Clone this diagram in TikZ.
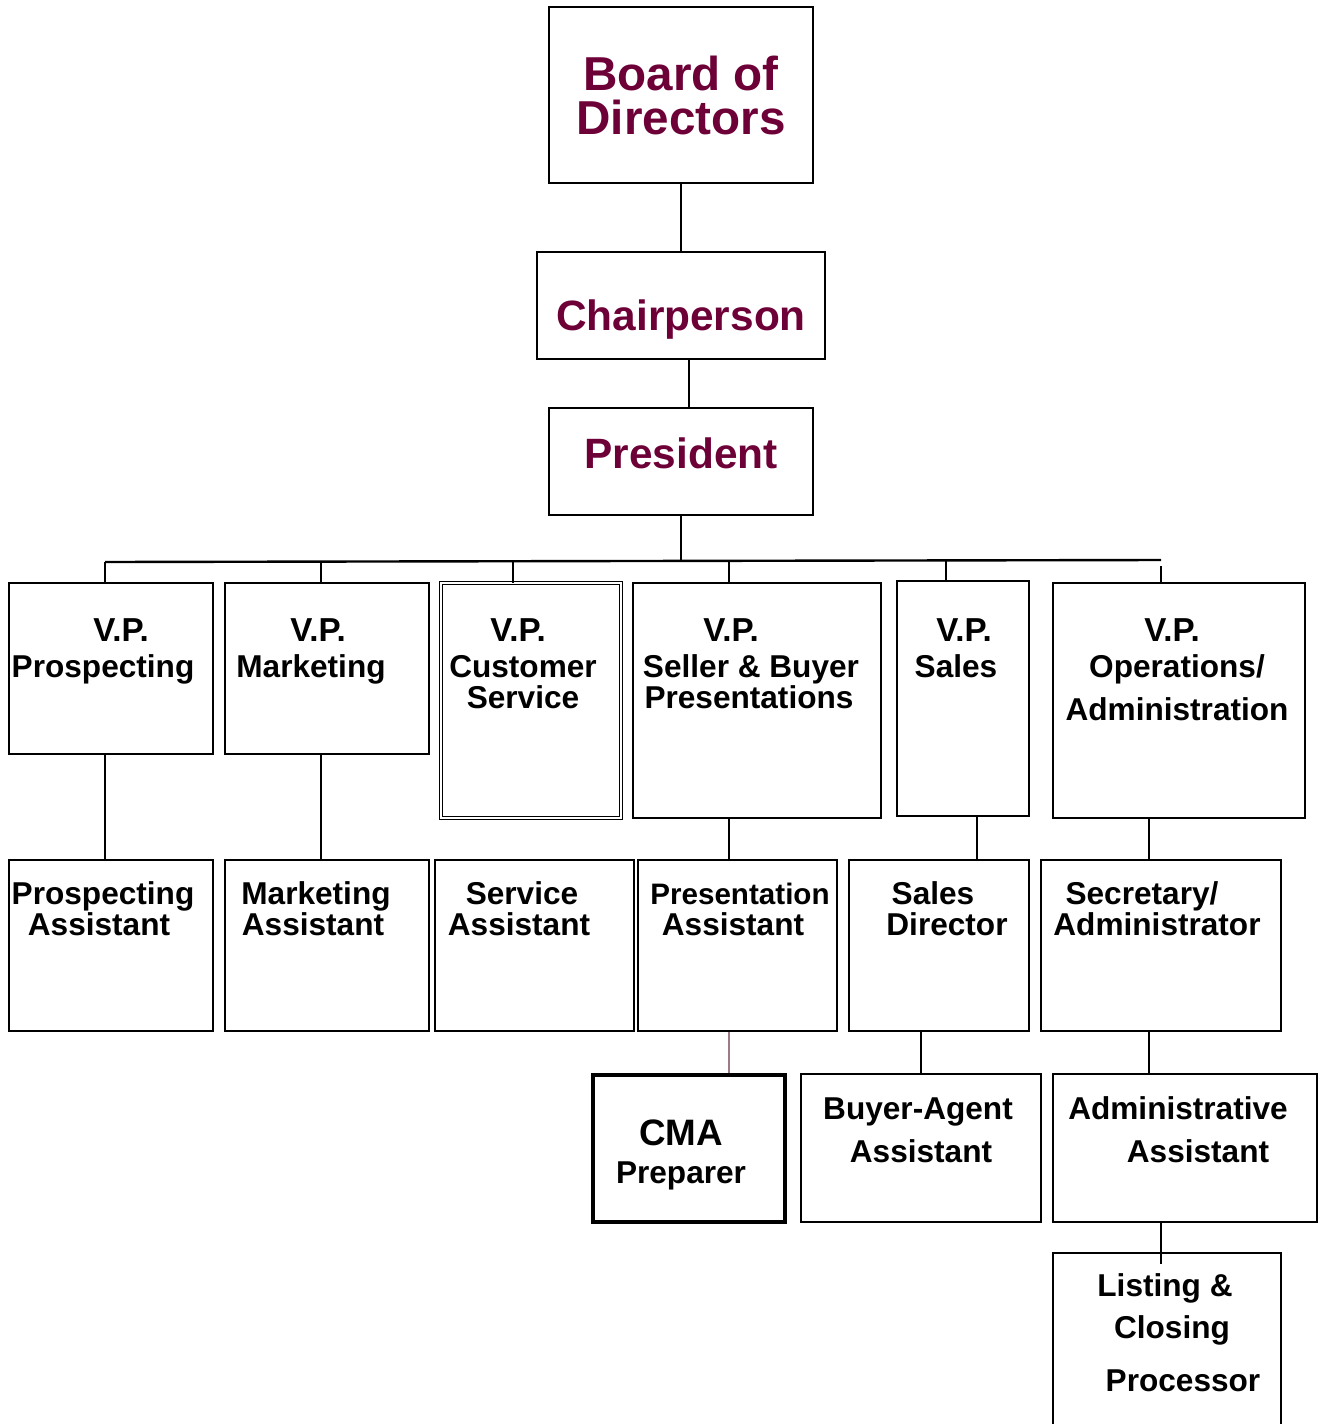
\documentclass[tikz,border=0pt]{standalone}
\usepackage{fontspec}
\setmainfont{Liberation Sans}
\usetikzlibrary{fit,calc}
\definecolor{maroon}{HTML}{6E0038}
\definecolor{mauve}{HTML}{A07888}
\tikzset{
  box/.style={draw=black, line width=1.1pt, inner sep=0pt, fill=white},
  thickbox/.style={draw=black, line width=1.9pt, inner sep=0pt, fill=white},
  dblbox/.style={draw=black, line width=0.5pt, double=white, double distance=1.3pt, inner sep=0pt},
  txt/.style={anchor=base, inner sep=0pt, font=\bfseries\fontsize{15.8}{18}\selectfont},
  vptxt/.style={anchor=base, inner sep=0pt, font=\bfseries\fontsize{16.6}{19}\selectfont},
  smtxt/.style={anchor=base, inner sep=0pt, font=\bfseries\fontsize{14.8}{17}\selectfont},
  bigtxt/.style={anchor=base, inner sep=0pt, text=maroon, font=\bfseries\fontsize{23.8}{28}\selectfont},
  midtxt/.style={anchor=base, inner sep=0pt, text=maroon, font=\bfseries\fontsize{21.2}{25}\selectfont},
  conn/.style={line width=1.2pt, draw=black},
}
\begin{document}
\begin{tikzpicture}[x=0.5pt,y=-0.5pt]
\useasboundingbox (0,0) rectangle (1318,1424);
\clip (0,0) rectangle (1318,1424);
% top chain
\node[box, fit={(549,7) (813,183)}] (board) {};
\node[box, fit={(537,252) (825,359)}] (chair) {};
\node[box, fit={(549,408) (813,515)}] (pres) {};
\node[bigtxt] (boardT1) at (681,90) {Board of};
\node[bigtxt] (boardT2) at (681,134) {Directors};
\node[midtxt] (chairT) at (681,330) {Chairperson};
\node[midtxt] (presT) at (681,468) {President};
% VP row
\node[box, fit={(9,583) (213,754)}] (vp1) {};
\node[box, fit={(225,583) (429,754)}] (vp2) {};
\node[dblbox, fit={(441,583) (621,818)}] (vp3) {};
\node[box, fit={(633,583) (881,818)}] (vp4) {};
\node[box, fit={(897,581) (1029,816)}] (vp5) {};
\node[box, fit={(1053,583) (1305,818)}] (vp6) {};
\node[vptxt] (vp1a) at (121,641) {V.P.};
\node[txt] (vp1b) at (103,677) {Prospecting};
\node[vptxt] (vp2a) at (318,641) {V.P.};
\node[txt] (vp2b) at (311,677) {Marketing};
\node[vptxt] (vp3a) at (518,641) {V.P.};
\node[txt] (vp3b) at (523,677) {Customer};
\node[txt] (vp3c) at (523,708) {Service};
\node[vptxt] (vp4a) at (731,641) {V.P.};
\node[txt] (vp4b) at (751,677) {Seller \& Buyer};
\node[txt] (vp4c) at (749,708) {Presentations};
\node[vptxt] (vp5a) at (964,641) {V.P.};
\node[txt] (vp5b) at (956,677) {Sales};
\node[vptxt] (vp6a) at (1172,641) {V.P.};
\node[txt] (vp6b) at (1177,677) {Operations/};
\node[txt] (vp6c) at (1177,720) {Administration};
% second row
\node[box, fit={(9,860) (213,1031)}] (a1) {};
\node[box, fit={(225,860) (429,1031)}] (a2) {};
\node[box, fit={(435,860) (634,1031)}] (a3) {};
\node[box, fit={(638,860) (837,1031)}] (a4) {};
\node[box, fit={(849,860) (1029,1031)}] (a5) {};
\node[box, fit={(1041,860) (1281,1031)}] (a6) {};
\node[txt] (a1a) at (103,904) {Prospecting};
\node[txt] (a1b) at (99,935) {Assistant};
\node[txt] (a2a) at (316,904) {Marketing};
\node[txt] (a2b) at (313,935) {Assistant};
\node[txt] (a3a) at (522,904) {Service};
\node[txt] (a3b) at (519,935) {Assistant};
\node[smtxt] (a4a) at (740,904) {Presentation};
\node[txt] (a4b) at (733,935) {Assistant};
\node[txt] (a5a) at (933,904) {Sales};
\node[txt] (a5b) at (947,935) {Director};
\node[txt] (a6a) at (1142,904) {Secretary/};
\node[txt] (a6b) at (1157,935) {Administrator};
% third row
\node[thickbox, fit={(593,1075) (785,1222)}] (cma) {};
\node[box, fit={(801,1074) (1041,1222)}] (buyer) {};
\node[box, fit={(1053,1074) (1317,1222)}] (admin) {};
\node[box, fit={(1053,1253) (1281,1450)}] (listing) {};
\node[vptxt, font=\bfseries\fontsize{18.4}{21}\selectfont] (cmaa) at (681,1145) {CMA};
\node[txt] (cmab) at (681,1183) {Preparer};
\node[txt] (buya) at (918,1119) {Buyer-Agent};
\node[txt] (buyb) at (921,1162) {Assistant};
\node[txt] (adma) at (1178,1119) {Administrative};
\node[txt] (admb) at (1198,1162) {Assistant};
\node[txt] (lista) at (1165,1296) {Listing \&};
\node[txt] (listb) at (1172,1338) {Closing};
\node[txt] (listc) at (1183,1391) {Processor};
% drop coordinates
\coordinate (x105) at (105,0);
\coordinate (x321) at (321,0);
\coordinate (x513) at (513,0);
\coordinate (x681) at (681,0);
\coordinate (x689) at (689,0);
\coordinate (x729) at (729,0);
\coordinate (x921) at (921,0);
\coordinate (x946) at (946,0);
\coordinate (x977) at (977,0);
\coordinate (x1149) at (1149,0);
\coordinate (x1161) at (1161,0);
\coordinate (busL) at (105,562);
\coordinate (busR) at (1161,560);
% connectors
\draw[conn] (board.south -| x681) -- (chair.north -| x681);
\draw[conn] (chair.south -| x689) -- (pres.north -| x689);
\draw[conn] (pres.south -| x681) -- (busL -| x681);
\draw[conn] (busL) -- (busR);
\draw[conn] (busL) -- (vp1.north -| x105);
\draw[conn] (busL -| x321) -- (vp2.north -| x321);
\draw[conn] (busL -| x513) -- (vp3.north -| x513);
\draw[conn] (busR -| x729) -- (vp4.north -| x729);
\draw[conn] (busR -| x946) -- (vp5.north -| x946);
\draw[conn] ($(busR)+(0,6)$) -- (vp6.north -| x1161);
\draw[conn] (vp1.south -| x105) -- (a1.north -| x105);
\draw[conn] (vp2.south -| x321) -- (a2.north -| x321);
\draw[conn] (vp4.south -| x729) -- (a4.north -| x729);
\draw[conn] (vp5.south -| x977) -- (a5.north -| x977);
\draw[conn] (vp6.south -| x1149) -- (a6.north -| x1149);
\draw[conn, draw=mauve] (a4.south -| x729) -- (cma.north -| x729);
\draw[conn] (a5.south -| x921) -- (buyer.north -| x921);
\draw[conn] (a6.south -| x1149) -- (admin.north -| x1149);
\draw[conn] (admin.south -| x1161) -- ($(listing.north -| x1161)+(0,12)$);
\end{tikzpicture}
\end{document}
